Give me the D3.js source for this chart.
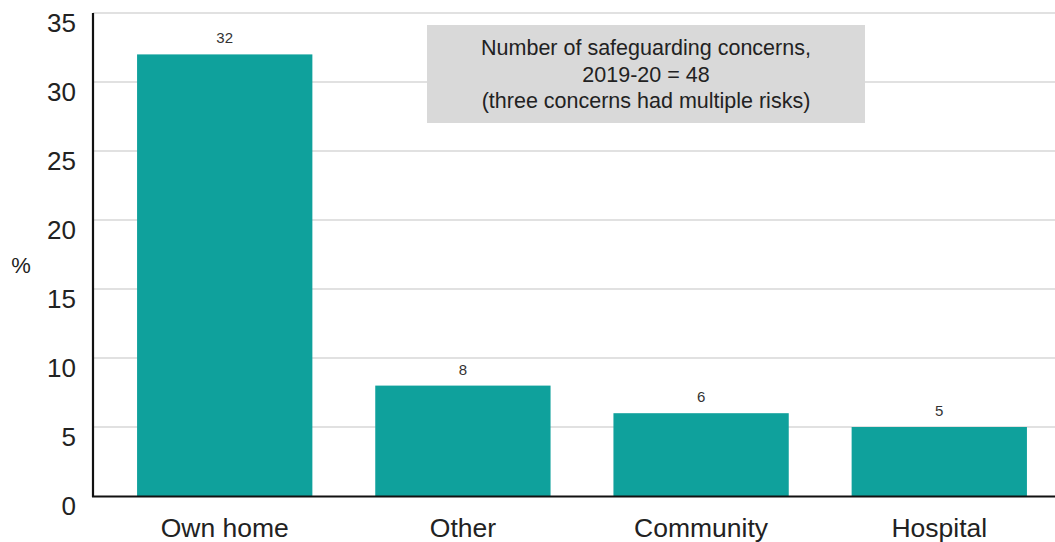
<!DOCTYPE html>
<html><head><meta charset="utf-8">
<script src="https://cdn.jsdelivr.net/npm/d3@7"></script>
<style>html,body{margin:0;padding:0;background:#fff;overflow:hidden}</style>
</head><body>
<script>
const categories = ["Own home", "Other", "Community", "Hospital"];
const values = [32, 8, 6, 5];
const yTicks = [0, 5, 10, 15, 20, 25, 30, 35];
const noteLines = ["Number of safeguarding concerns,", "2019-20 = 48", "(three concerns had multiple risks)"];

const W = 1055, H = 542;
const font = "'Liberation Sans', Arial, sans-serif";
const svg = d3.select("body").append("svg").attr("width", W).attr("height", H);

const x = d3.scaleBand().domain(categories).range([93, 1071]).paddingInner(0.264).paddingOuter(0.185);
const y = d3.scaleLinear().domain([0, 35]).range([496, 13]);

// gridlines
svg.append("g").selectAll("line").data(yTicks.filter(d => d > 0)).join("line")
  .attr("x1", 93).attr("x2", W).attr("y1", d => y(d)).attr("y2", d => y(d))
  .attr("stroke", "#c4c4c4").attr("stroke-width", 1.2);

// y axis labels
const yAxis = d3.axisLeft(y).tickValues(yTicks).tickSize(0).tickPadding(0);
const ya = svg.append("g").attr("transform", "translate(76,0)").call(yAxis);
ya.select(".domain").remove();
ya.selectAll("text").attr("font-family", font).attr("font-size", 26).attr("fill", "#222").attr("dy", "1.0em").attr("y", -8);

// bars
svg.append("g").selectAll("rect").data(values).join("rect")
  .attr("x", (d, i) => x(categories[i])).attr("width", x.bandwidth())
  .attr("y", d => y(d)).attr("height", d => y(0) - y(d))
  .attr("fill", "#0fa19c");

// value labels
svg.append("g").selectAll("text").data(values).join("text")
  .attr("x", (d, i) => x(categories[i]) + x.bandwidth() / 2)
  .attr("y", d => y(d) - 11)
  .attr("text-anchor", "middle").attr("font-family", font).attr("font-size", 15).attr("fill", "#333")
  .text(d => d);

// axes lines
svg.append("line").attr("x1", 93).attr("x2", 93).attr("y1", 13).attr("y2", 497).attr("stroke", "#111").attr("stroke-width", 2.2);
svg.append("line").attr("x1", 92).attr("x2", W).attr("y1", 496.5).attr("y2", 496.5).attr("stroke", "#111").attr("stroke-width", 2.2);

// x axis labels
const xAxis = d3.axisBottom(x).tickSize(0).tickPadding(0);
const xa = svg.append("g").attr("transform", "translate(0,496)").call(xAxis);
xa.select(".domain").remove();
xa.selectAll("text").attr("font-family", font).attr("font-size", 26.5).attr("fill", "#222").attr("dy", 0).attr("y", 41);

// y label
svg.append("text").attr("x", 21).attr("y", 273).attr("text-anchor", "middle")
  .attr("font-family", font).attr("font-size", 22).attr("fill", "#222").text("%");

// note box
svg.append("rect").attr("x", 427).attr("y", 25).attr("width", 438).attr("height", 98).attr("fill", "#d9d9d9");
svg.append("g").selectAll("text").data(noteLines).join("text")
  .attr("x", 646).attr("y", (d, i) => 55 + i * 26.5)
  .attr("text-anchor", "middle").attr("font-family", font).attr("font-size", 21.5).attr("fill", "#222")
  .text(d => d);
</script>
</body></html>
